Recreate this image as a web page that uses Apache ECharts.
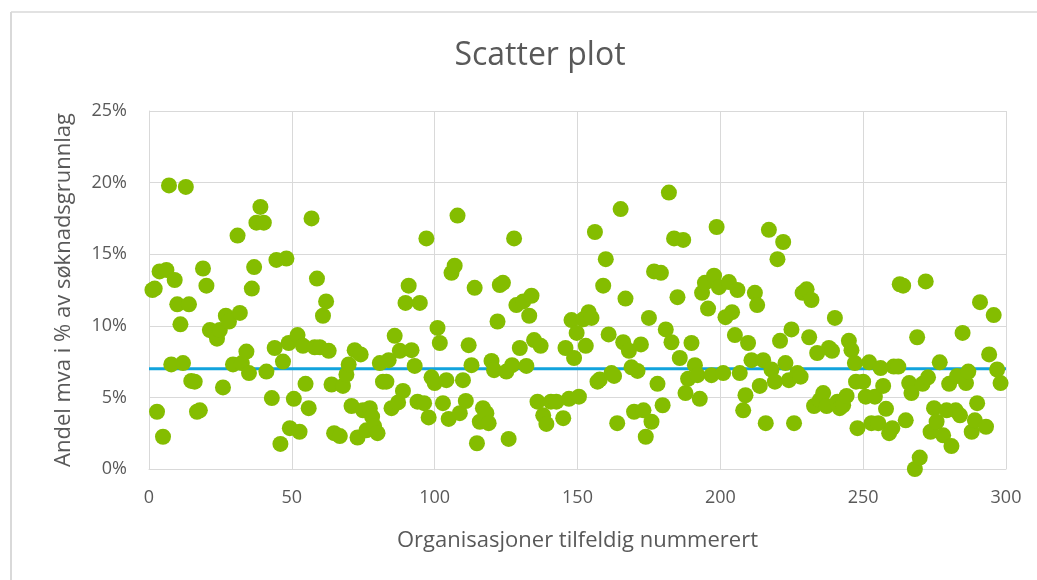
<!DOCTYPE html>
<html lang="no">
<head>
<meta charset="UTF-8">
<title>Scatter plot</title>
<script src="https://cdn.jsdelivr.net/npm/echarts@6/dist/echarts.min.js"></script>
<style>
  html, body { margin: 0; padding: 0; background: #fff; }
  #main { width: 1037px; height: 580px; }
</style>
</head>
<body>
<div id="main"></div>
<script>
// organisation number (x) and share in % (y)
var orgNr = [
  1.2, 2.0, 2.8, 3.7, 4.9, 6.1, 7.0, 7.8, 9.0, 9.9, 11.0, 11.9, 12.9, 14.0, 14.8, 16.0, 16.8, 17.8, 18.9, 20.1,
  21.3, 22.7, 23.8, 24.8, 25.9, 26.9, 28.0, 29.4, 31.0, 31.8, 32.5, 34.1, 35.0, 36.0, 36.8, 37.6, 39.0, 40.2, 41.1, 43.0,
  44.0, 44.6, 46.0, 46.9, 48.1, 48.9, 49.3, 50.7, 52.0, 52.7, 53.9, 54.8, 55.9, 56.9, 58.0, 58.8, 59.8, 60.9, 62.0, 62.9,
  63.9, 64.8, 66.8, 67.9, 69.1, 69.9, 70.9, 72.0, 73.0, 74.1, 74.9, 76.1, 77.3, 78.1, 78.8, 80.0, 80.8, 81.9, 83.1, 83.9,
  84.9, 86.0, 87.2, 87.8, 88.9, 89.8, 90.9, 91.9, 93.0, 94.0, 94.8, 96.3, 97.1, 97.9, 98.9, 100.0, 101.0, 101.8, 102.9, 104.1,
  104.9, 105.9, 107.0, 108.0, 108.8, 109.9, 110.9, 111.9, 112.9, 114.0, 114.8, 115.8, 116.9, 118.1, 118.9, 119.9, 120.8, 122.0, 122.8, 123.9,
  125.1, 125.9, 127.1, 127.8, 128.6, 129.8, 131.0, 132.1, 133.1, 133.9, 134.8, 136.0, 137.1, 138.0, 139.1, 140.7, 142.6, 145.0, 145.8, 147.0,
  147.9, 148.8, 149.7, 150.5, 152.0, 152.9, 153.9, 154.9, 156.1, 157.0, 157.8, 159.0, 159.9, 160.9, 161.9, 162.8, 163.9, 165.1, 166.0, 166.8,
  168.0, 168.9, 169.8, 171.0, 172.2, 173.1, 173.9, 175.0, 175.9, 176.8, 178.0, 179.2, 179.8, 180.9, 182.0, 182.9, 183.8, 185.0, 185.8, 187.0,
  187.8, 188.7, 189.9, 191.1, 192.0, 192.8, 193.6, 194.6, 195.7, 196.9, 197.8, 198.7, 199.5, 201.0, 201.8, 203.0, 204.1, 205.1, 206.0, 206.8,
  208.0, 208.8, 209.7, 210.9, 212.1, 212.9, 213.8, 215.0, 215.9, 217.0, 217.9, 219.1, 220.0, 220.9, 222.0, 222.8, 224.0, 224.9, 225.8, 227.0,
  228.1, 228.8, 230.2, 231.1, 231.9, 232.8, 233.9, 234.8, 236.0, 237.2, 238.0, 239.1, 240.1, 241.0, 241.8, 243.0, 244.2, 245.0, 245.9, 247.1,
  247.5, 248.0, 250.0, 250.9, 252.1, 252.9, 254.1, 255.3, 256.1, 257.0, 258.0, 259.1, 260.2, 260.7, 262.3, 262.8, 264.0, 264.9, 266.1, 266.9,
  268.1, 268.9, 269.8, 270.8, 271.9, 272.7, 273.6, 274.8, 275.7, 276.8, 278.0, 279.2, 280.1, 280.9, 282.4, 282.9, 283.9, 284.8, 286.0, 286.8,
  288.0, 289.1, 289.9, 290.9, 293.0, 294.1, 295.7, 296.9, 298.1
];
var andelMva = [
  12.5, 12.6, 4.0, 13.8, 2.25, 13.9, 19.8, 7.3, 13.2, 11.5, 10.1, 7.4, 19.7, 11.5, 6.15, 6.1, 4.0, 4.1, 14.0, 12.8,
  9.7, 9.6, 9.1, 9.7, 5.7, 10.7, 10.3, 7.3, 16.3, 10.9, 7.4, 8.2, 6.7, 12.6, 14.1, 17.2, 18.3, 17.2, 6.8, 4.95,
  8.45, 14.6, 1.75, 7.5, 14.7, 8.8, 2.85, 4.9, 9.35, 2.6, 8.6, 5.95, 4.25, 17.5, 8.5, 13.3, 8.5, 10.7, 11.7, 8.25,
  5.9, 2.5, 2.3, 5.8, 6.6, 7.3, 4.4, 8.3, 2.2, 8.0, 4.1, 2.7, 4.25, 3.65, 3.0, 2.5, 7.4, 6.1, 6.1, 7.6,
  4.25, 9.3, 4.65, 8.25, 5.45, 11.6, 12.8, 8.3, 7.2, 4.7, 11.6, 4.6, 16.1, 3.6, 6.4, 6.0, 9.85, 8.8, 4.6, 6.2,
  3.5, 13.7, 14.2, 17.7, 3.9, 6.2, 4.75, 8.65, 7.25, 12.65, 1.8, 3.3, 4.25, 3.9, 3.2, 7.55, 6.9, 10.3, 12.85, 13.0,
  6.8, 2.1, 7.25, 16.1, 11.45, 8.45, 11.7, 7.2, 10.7, 12.1, 9.0, 4.7, 8.6, 3.75, 3.15, 4.7, 4.7, 3.55, 8.45, 4.9,
  10.4, 7.75, 9.5, 5.05, 10.45, 8.6, 10.95, 10.55, 16.55, 6.1, 6.25, 12.8, 14.65, 9.4, 6.7, 6.5, 3.2, 18.15, 8.85, 11.9,
  8.25, 7.1, 4.0, 6.85, 8.7, 4.1, 2.25, 10.55, 3.3, 13.8, 5.95, 13.7, 4.45, 9.75, 19.3, 8.85, 16.1, 12.0, 7.75, 16.0,
  5.3, 6.3, 8.8, 7.25, 6.55, 4.9, 12.3, 13.0, 11.2, 6.55, 13.5, 16.9, 12.7, 6.7, 10.6, 13.05, 10.95, 9.35, 12.5, 6.7,
  4.1, 5.15, 8.8, 7.6, 12.3, 11.45, 5.8, 7.6, 3.2, 16.7, 6.95, 6.1, 14.65, 8.95, 15.85, 7.4, 6.2, 9.75, 3.2, 6.7,
  6.45, 12.3, 12.55, 9.2, 11.8, 4.4, 8.1, 4.8, 5.3, 4.4, 8.45, 8.25, 10.55, 4.7, 4.25, 4.45, 5.1, 8.95, 8.3, 7.4,
  6.1, 2.85, 6.1, 5.05, 7.45, 3.2, 5.05, 3.2, 7.05, 5.8, 4.2, 2.5, 2.85, 7.15, 7.15, 12.9, 12.8, 3.4, 6.0, 5.3,
  0.0, 9.2, 0.8, 5.95, 13.1, 6.4, 2.6, 4.25, 3.3, 7.45, 2.35, 4.1, 5.95, 1.6, 4.1, 6.5, 3.75, 9.5, 6.0, 6.8,
  2.6, 3.4, 4.6, 11.65, 2.95, 8.0, 10.75, 6.95, 6.0
];
// the blue reference line
var refX = [0, 300];
var refY = [7, 7];

var xTicks = [0, 50, 100, 150, 200, 250, 300];
var yTicks = [0, 5, 10, 15, 20, 25];

var points = orgNr.map(function (x, i) { return [x, andelMva[i]]; });
var refLine = refX.map(function (x, i) { return [x, refY[i]]; });

var font = '"Open Sans", "Liberation Sans", sans-serif';
var txt = '#595959';
var gridCol = '#d9d9d9';

var chart = echarts.init(document.getElementById('main'), null, { renderer: 'canvas' });
chart.setOption({
  animation: false,
  backgroundColor: '#fff',
  textStyle: { fontFamily: font },
  title: {
    text: 'Scatter plot',
    left: 535,
    top: 35,
    textAlign: 'center',
    textStyle: { fontFamily: font, fontSize: 32, fontWeight: 'normal', color: txt }
  },
  graphic: [
    { type: 'line', shape: { x1: 11, y1: 12, x2: 11, y2: 580 }, style: { stroke: gridCol, lineWidth: 2 } },
    { type: 'line', shape: { x1: 11, y1: 12, x2: 1037, y2: 12 }, style: { stroke: gridCol, lineWidth: 1.5 } }
  ],
  grid: { left: 149, right: 31, top: 111, bottom: 111, containLabel: false },
  xAxis: {
    type: 'value',
    min: xTicks[0],
    max: xTicks[xTicks.length - 1],
    interval: 50,
    name: 'Organisasjoner tilfeldig nummerert',
    nameLocation: 'middle',
    nameGap: 61,
    nameTextStyle: { fontFamily: font, fontSize: 22, color: txt },
    axisLine: { show: true, lineStyle: { color: gridCol, width: 1 } },
    axisTick: { show: false },
    axisLabel: { margin: 20, fontFamily: font, fontSize: 18, color: txt },
    splitLine: { show: true, lineStyle: { color: gridCol, width: 1 } }
  },
  yAxis: {
    type: 'value',
    min: yTicks[0],
    max: yTicks[yTicks.length - 1],
    interval: 5,
    name: 'Andel mva i % av søknadsgrunnlag',
    nameLocation: 'middle',
    nameGap: 74,
    nameTextStyle: { fontFamily: font, fontSize: 22, color: txt },
    axisLine: { show: true, lineStyle: { color: gridCol, width: 1 } },
    axisTick: { show: false },
    axisLabel: { margin: 22, fontFamily: font, fontSize: 18, color: txt, formatter: '{value}%' },
    splitLine: { show: true, lineStyle: { color: gridCol, width: 1 } }
  },
  series: [
    {
      type: 'line',
      data: refLine,
      symbol: 'none',
      lineStyle: { color: '#12a3dc', width: 3 },
      z: 1
    },
    {
      type: 'scatter',
      data: points,
      symbol: 'circle',
      symbolSize: 16,
      itemStyle: { color: '#84bd00', opacity: 1 },
      z: 2
    }
  ]
});
</script>
</body>
</html>
